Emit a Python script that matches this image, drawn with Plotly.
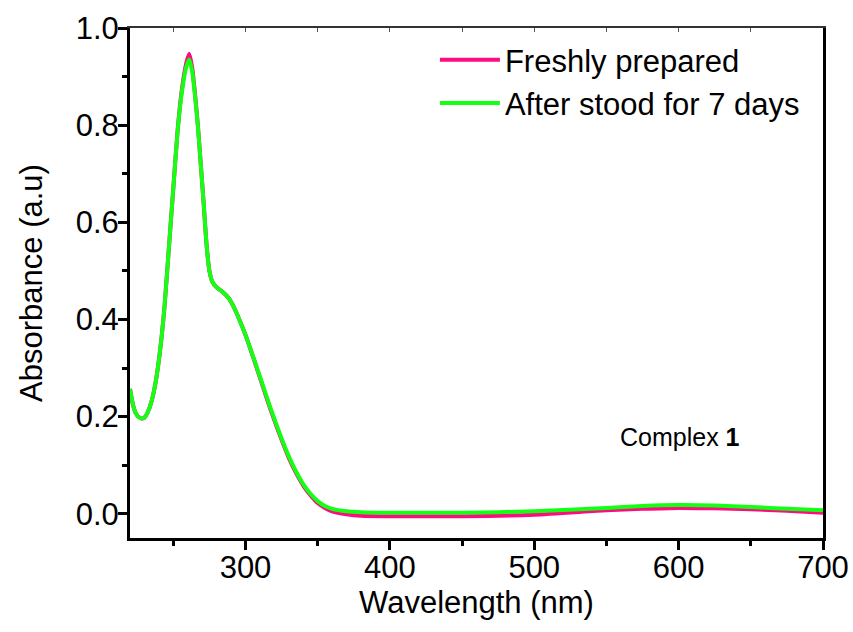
import plotly.graph_objects as go

# Data
wavelength = [220, 222, 224, 226, 228, 230, 232, 235, 238, 241, 244, 247, 250, 253, 256,
              259, 261, 263, 265, 267, 269, 271, 273, 275, 277, 280, 284, 288, 292, 296,
              300, 305, 310, 315, 320, 325, 330, 335, 340, 345, 350, 355, 360, 370, 380,
              400, 450, 500, 550, 575, 600, 625, 650, 675, 700]

fresh = [0.257, 0.225, 0.207, 0.199, 0.196, 0.198, 0.207, 0.232, 0.275, 0.340, 0.430, 0.550,
         0.670, 0.790, 0.875, 0.928, 0.947, 0.920, 0.865, 0.800, 0.720, 0.640, 0.555, 0.500,
         0.478, 0.466, 0.457, 0.445, 0.425, 0.398, 0.368, 0.325, 0.280, 0.235, 0.192, 0.152,
         0.115, 0.084, 0.058, 0.038, 0.022, 0.012, 0.005, -0.001, -0.004, -0.005, -0.005,
         -0.002, 0.007, 0.010, 0.012, 0.011, 0.009, 0.006, 0.002]

after7 = [0.257, 0.225, 0.207, 0.199, 0.196, 0.198, 0.207, 0.232, 0.275, 0.340, 0.430, 0.550,
          0.670, 0.788, 0.870, 0.920, 0.935, 0.912, 0.862, 0.798, 0.720, 0.640, 0.555, 0.500,
          0.478, 0.466, 0.457, 0.445, 0.425, 0.398, 0.368, 0.326, 0.282, 0.238, 0.195, 0.155,
          0.118, 0.087, 0.061, 0.041, 0.026, 0.016, 0.010, 0.005, 0.003, 0.002, 0.002,
          0.005, 0.012, 0.016, 0.018, 0.017, 0.014, 0.010, 0.007]

series_names = ["Freshly prepared", "After stood for 7 days"]
series_colors = ["#FF0A80", "#14FF14"]

x_major = [300, 400, 500, 600, 700]
y_major = [0.0, 0.2, 0.4, 0.6, 0.8, 1.0]
y_labels = ["0.0", "0.2", "0.4", "0.6", "0.8", "1.0"]

FONT = "Liberation Sans, Arial, sans-serif"
FS = 31

fig = go.Figure()
for vals, name, col in zip([fresh, after7], series_names, series_colors):
    fig.add_trace(go.Scatter(
        x=wavelength, y=vals, name=name, mode="lines",
        line=dict(color=col, width=4, shape="spline", smoothing=0.6),
        legendgroup=name,
    ))

# invisible trace on the top axis for the mirrored inner ticks
fig.add_trace(go.Scatter(x=[wavelength[0], wavelength[-1]], y=[fresh[0], fresh[-1]],
                         xaxis="x2", mode="lines", line=dict(width=0),
                         showlegend=False, hoverinfo="skip", opacity=0))

fig.update_layout(
    width=853, height=632,
    margin=dict(l=130, r=30, t=28, b=94, autoexpand=False),
    paper_bgcolor="white", plot_bgcolor="white",
    font=dict(family=FONT, size=FS, color="black"),
    showlegend=True,
    legend=dict(x=0.44, y=0.99, xanchor="left", yanchor="top",
                bgcolor="rgba(0,0,0,0)", font=dict(size=FS),
                tracegroupgap=0, itemwidth=60),
    xaxis=dict(range=[220, 700], tickvals=x_major, ticktext=[str(v) for v in x_major],
               ticks="outside", ticklen=9, tickwidth=2.5, tickcolor="black",
               showline=True, linewidth=3, linecolor="black", mirror=False,
               showgrid=False, zeroline=False, automargin=False,
               ticklabelstandoff=-9,
               minor=dict(tickvals=[250, 350, 450, 550, 650], ticks="outside",
                          ticklen=5, tickwidth=2.5, tickcolor="black"),
               title=dict(text="Wavelength (nm)", font=dict(size=FS), standoff=4)),
    xaxis2=dict(range=[220, 700], overlaying="x", side="top", anchor="y",
                tickvals=[250, 300, 350, 400, 450, 500, 550, 600, 650, 700],
                ticks="inside", ticklen=4, tickwidth=1, tickcolor="#555555",
                showticklabels=False, showline=True, linewidth=1.5, linecolor="#333333",
                showgrid=False, zeroline=False, automargin=False),
    yaxis=dict(range=[-0.05, 1.0], tickvals=y_major, ticktext=y_labels,
               ticks="outside", ticklen=9, tickwidth=2.5, tickcolor="black",
               showline=True, linewidth=3, linecolor="black", mirror=True,
               showgrid=False, zeroline=False, automargin=False,
               ticklabelstandoff=-7,
               minor=dict(tickvals=[0.1, 0.3, 0.5, 0.7, 0.9], ticks="outside",
                          ticklen=5, tickwidth=2.5, tickcolor="black"),
               title=dict(text="Absorbance (a.u)", font=dict(size=FS), standoff=24)),
    annotations=[dict(text="Complex <b>1</b>", x=0.794, y=0.198, xref="paper", yref="paper",
                      showarrow=False, font=dict(size=25, family=FONT),
                      xanchor="center", yanchor="middle")],
)

fig.write_html("out.html")
